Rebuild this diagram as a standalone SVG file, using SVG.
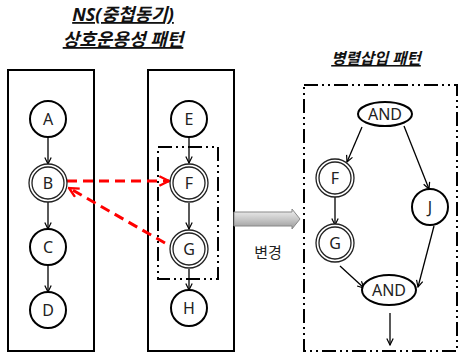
<svg xmlns="http://www.w3.org/2000/svg" width="460" height="353" viewBox="0 0 460 353">
<defs>
<style>
.title{font-family:"Noto Sans","Noto Sans CJK KR",sans-serif;font-style:italic;font-weight:bold;text-decoration:underline;fill:#111;}
.lbl{font-family:"Noto Sans","Noto Sans CJK KR",sans-serif;font-size:16px;fill:#222;text-anchor:middle;dominant-baseline:central;}
.box{fill:none;stroke:#000;stroke-width:2;}
.dd{fill:none;stroke:#000;stroke-width:2;stroke-dasharray:14 4 2 4 2 4;}
.n1{fill:#fff;stroke:#000;stroke-width:2;}
.n2{fill:#fff;stroke:#222;stroke-width:1.3;}
.e{stroke:#000;stroke-width:1.3;fill:none;marker-end:url(#ah);}
.r{stroke:#f00;stroke-width:3;stroke-dasharray:10 6;fill:none;marker-end:url(#rh);}
</style>
<marker id="ah" viewBox="0 0 10 10" refX="9" refY="5" markerWidth="8" markerHeight="8" markerUnits="userSpaceOnUse" orient="auto">
<path d="M1,1 L9,5 L1,9" fill="none" stroke="#000" stroke-width="1.5"/>
</marker>
<marker id="rh" viewBox="0 0 10 10" refX="9" refY="5" markerWidth="12" markerHeight="12" markerUnits="userSpaceOnUse" orient="auto">
<path d="M1,1 L9,5 L1,9" fill="none" stroke="#f00" stroke-width="2"/>
</marker>
<linearGradient id="gg" x1="0" y1="0" x2="0" y2="1">
<stop offset="0" stop-color="#f2f2f2"/>
<stop offset="0.5" stop-color="#c8c8c8"/>
<stop offset="1" stop-color="#9a9a9a"/>
</linearGradient>
</defs>
<rect width="460" height="353" fill="#fff"/>
<text class="title" x="123" y="21" font-size="18" text-anchor="middle">NS(중첩동기)</text>
<text class="title" x="123" y="46" font-size="18" text-anchor="middle">상호운용성 패턴</text>
<text class="title" x="376" y="64" font-size="15.5" text-anchor="middle">병렬삽입 패턴</text>
<rect class="box" x="8" y="70" width="86" height="281"/>
<rect class="box" x="148" y="70" width="86" height="281"/>
<rect class="dd" x="158" y="147" width="60" height="132"/>
<rect class="dd" x="304" y="85" width="153" height="266"/>
<g id="arrow-change">
<path d="M234,212 L292,212 L292,209 L300,219 L292,229 L292,226 L234,226 Z" fill="url(#gg)" stroke="#888" stroke-width="1"/>
<text x="268" y="258" font-family="Noto Sans CJK KR, sans-serif" font-size="15" fill="#222" text-anchor="middle">변경</text>
</g>
<g id="connectors">
<line class="e" x1="48" y1="137" x2="48" y2="164"/>
<line class="e" x1="48" y1="202" x2="48" y2="229"/>
<line class="e" x1="48" y1="265" x2="48" y2="292"/>
<line class="e" x1="189" y1="137" x2="189" y2="163"/>
<line class="e" x1="189" y1="203" x2="189" y2="229"/>
<line class="e" x1="189" y1="269" x2="189" y2="290"/>
<line class="e" x1="362" y1="127" x2="347" y2="162"/>
<line class="e" x1="404" y1="126" x2="429" y2="189"/>
<line class="e" x1="335" y1="197" x2="335" y2="225"/>
<line class="e" x1="340" y1="266" x2="364" y2="288"/>
<line class="e" x1="434" y1="226" x2="418" y2="287"/>
<line class="e" x1="390" y1="313" x2="390" y2="345"/>
<line class="r" x1="67" y1="181" x2="169" y2="181"/>
<line class="r" x1="165" y1="243" x2="69" y2="188"/>
</g>
<g id="A"><circle class="n1" cx="48" cy="119" r="18"/><text class="lbl" x="48" y="119">A</text></g>
<g id="B"><circle class="n2" cx="48" cy="183" r="19"/><circle class="n2" cx="48" cy="183" r="16"/><text class="lbl" x="48" y="183">B</text></g>
<g id="C"><circle class="n1" cx="48" cy="247" r="18"/><text class="lbl" x="48" y="247">C</text></g>
<g id="D"><circle class="n1" cx="48" cy="310" r="18"/><text class="lbl" x="48" y="310">D</text></g>
<g id="E"><circle class="n1" cx="189" cy="119" r="18"/><text class="lbl" x="189" y="119">E</text></g>
<g id="F"><circle class="n2" cx="189" cy="183" r="19"/><circle class="n2" cx="189" cy="183" r="16"/><text class="lbl" x="189" y="183">F</text></g>
<g id="G"><circle class="n2" cx="189" cy="249" r="19"/><circle class="n2" cx="189" cy="249" r="16"/><text class="lbl" x="189" y="249">G</text></g>
<g id="H"><circle class="n1" cx="189" cy="308" r="18"/><text class="lbl" x="189" y="308">H</text></g>
<g id="AND1"><ellipse class="n1" cx="385" cy="114" rx="27" ry="12"/><text class="lbl" x="385" y="114" font-size="13.5">AND</text></g>
<g id="F2"><circle class="n2" cx="335" cy="178" r="19"/><circle class="n2" cx="335" cy="178" r="16"/><text class="lbl" x="335" y="178">F</text></g>
<g id="J"><circle class="n1" cx="430" cy="207" r="18"/><text class="lbl" x="430" y="207">J</text></g>
<g id="G2"><circle class="n2" cx="335" cy="243" r="19"/><circle class="n2" cx="335" cy="243" r="16"/><text class="lbl" x="335" y="243">G</text></g>
<g id="AND2"><ellipse class="n1" cx="389" cy="290" rx="27" ry="15"/><text class="lbl" x="389" y="290" font-size="13.5">AND</text></g>
</svg>
